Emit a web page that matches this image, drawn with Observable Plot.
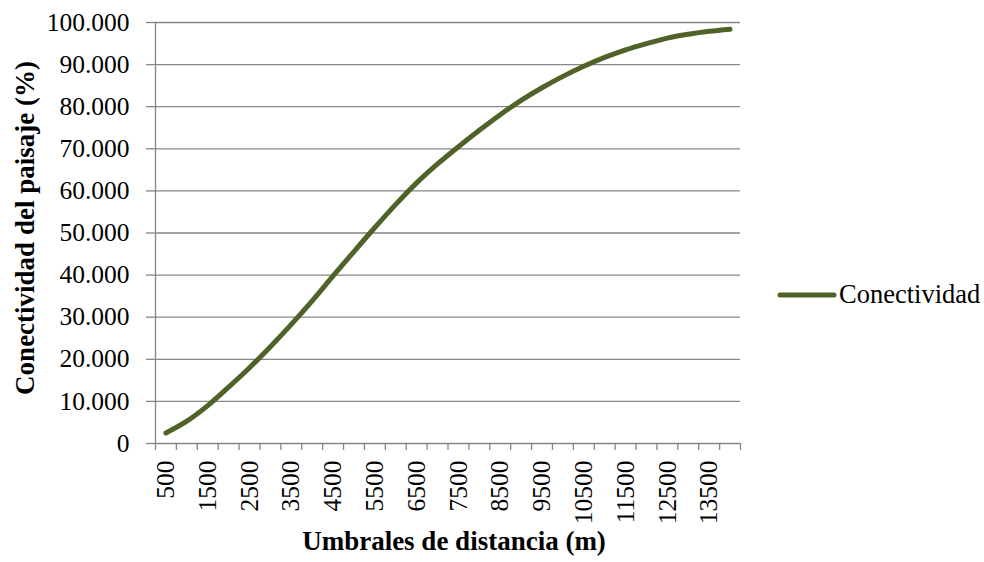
<!DOCTYPE html>
<html>
<head>
<meta charset="utf-8">
<script src="https://cdn.jsdelivr.net/npm/d3@7"></script>
<script src="https://cdn.jsdelivr.net/npm/@observablehq/plot@0.6"></script>
<style>
  html, body { margin: 0; padding: 0; background: #fff; }
  #chart { position: relative; width: 984px; height: 562px; font-family: "Liberation Serif", "Times New Roman", serif; }
  #legend { position: absolute; left: 777px; top: 279px; display: flex; align-items: center; font-size: 26.5px; color: #000; white-space: nowrap; }
  #legend svg { display: block; margin-right: 2px; }
  #chart svg text { font-family: "Liberation Serif", "Times New Roman", serif; }
</style>
</head>
<body>
<div id="chart">
  <div id="legend">
    <svg width="60" height="10"><line x1="3" y1="5" x2="57" y2="5" stroke="#4F6228" stroke-width="5" stroke-linecap="round"/></svg>
    <span>Conectividad</span>
  </div>
</div>
<script>
// Distance thresholds (m) and landscape connectivity (%)
const distancias = [500, 1000, 1500, 2000, 2500, 3000, 3500, 4000, 4500, 5000, 5500, 6000, 6500, 7000,
                    7500, 8000, 8500, 9000, 9500, 10000, 10500, 11000, 11500, 12000, 12500, 13000, 13500, 14000];
const conectividad = [2.5, 5.3, 9.0, 13.4, 18.0, 23.0, 28.3, 33.9, 39.8, 45.6, 51.3, 56.8, 61.9, 66.4,
                      70.5, 74.4, 78.1, 81.5, 84.5, 87.2, 89.6, 91.7, 93.5, 95.0, 96.3, 97.2, 97.9, 98.4];

// Axis ticks and their labels
const xEtiquetas = [500, 1500, 2500, 3500, 4500, 5500, 6500, 7500, 8500, 9500, 10500, 11500, 12500, 13500];
const yTicks = [0, 10, 20, 30, 40, 50, 60, 70, 80, 90, 100];
const yEtiquetas = ["0", "10.000", "20.000", "30.000", "40.000", "50.000", "60.000", "70.000", "80.000", "90.000", "100.000"];

const tituloX = "Umbrales de distancia (m)";
const tituloY = "Conectividad del paisaje (%)";

const datos = distancias.map((d, i) => ({distancia: d, valor: conectividad[i]}));

// Each category occupies one 500 m slot; tick marks sit on the slot boundaries
const paso = 500;
const limites = d3.range(distancias.length + 1).map(i => distancias[0] - paso / 2 + i * paso);

const gris = "#868686";

const chart = Plot.plot({
  width: 984,
  height: 562,
  marginLeft: 155,
  marginRight: 244,
  marginTop: 22,
  marginBottom: 119,
  style: {fontFamily: "'Liberation Serif', 'Times New Roman', serif", fontSize: "25.5px", color: "#000", background: "#fff"},
  x: {type: "linear", domain: [limites[0], limites[limites.length - 1]]},
  y: {domain: [0, 100]},
  marks: [
    Plot.gridY(yTicks.filter(d => d > 0), {stroke: gris, strokeOpacity: 1, strokeWidth: 1.3}),
    Plot.ruleX([limites[0]], {stroke: gris, strokeWidth: 1.3}),
    Plot.ruleY([0], {stroke: gris, strokeWidth: 1.3}),
    Plot.axisY({ticks: yTicks, tickFormat: (d) => yEtiquetas[yTicks.indexOf(d)], tickSize: 9, tickPadding: 17,
                stroke: gris, strokeWidth: 1.3, fill: "#000", label: null}),
    Plot.axisX({ticks: limites, tickFormat: () => "", tickSize: 7, stroke: gris, strokeWidth: 1.3, label: null}),
    Plot.axisX({ticks: xEtiquetas, tickSize: 0, tickPadding: 17, tickRotate: -90, tickFormat: d => String(d),
                fill: "#000", label: null}),
    Plot.line(datos, {x: "distancia", y: "valor", stroke: "#4F6228", strokeWidth: 5, curve: "monotone-x",
                      strokeLinecap: "round", strokeLinejoin: "round"}),
    Plot.text([tituloX], {frameAnchor: "bottom", dx: 6, dy: 106, fontWeight: "bold", fontSize: 27, fill: "#000"}),
    Plot.text([tituloY], {frameAnchor: "left", textAnchor: "middle", rotate: -90, dx: -130, dy: -5,
                          fontWeight: "bold", fontSize: 27, fill: "#000"})
  ]
});

document.getElementById("chart").prepend(chart);
chart.style.position = "absolute";
chart.style.left = "0";
chart.style.top = "0";
</script>
</body>
</html>
